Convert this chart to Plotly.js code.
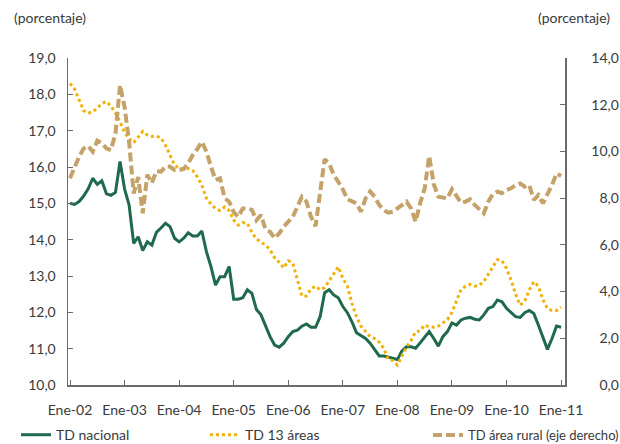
<!DOCTYPE html>
<html>
<head>
<meta charset="utf-8">
<script src="https://cdn.plot.ly/plotly-3.0.1.min.js"></script>
<style>
html,body{margin:0;padding:0;background:#fff;}
#chart{width:620px;height:444px;}
</style>
</head>
<body>
<div id="chart"></div>
<script>
// Monthly series, Jan 2002 .. Jan 2011
var tdNacional = [
15.00,14.97,15.05,15.20,15.40,15.69,15.52,15.62,15.27,15.22,15.30,16.15,
15.40,14.95,13.90,14.08,13.70,13.94,13.85,14.20,14.32,14.45,14.36,14.04,
13.94,14.04,14.19,14.10,14.10,14.24,13.67,13.26,12.75,12.98,12.98,13.26,
12.36,12.36,12.40,12.62,12.52,12.08,11.93,11.62,11.33,11.10,11.04,11.15,
11.33,11.47,11.51,11.62,11.68,11.59,11.59,11.88,12.54,12.62,12.48,12.40,
12.16,11.99,11.74,11.44,11.36,11.28,11.15,10.96,10.80,10.80,10.76,10.72,
10.70,10.94,11.05,11.05,11.01,11.16,11.33,11.47,11.28,11.07,11.33,11.47,
11.71,11.65,11.79,11.84,11.86,11.81,11.79,11.93,12.11,12.16,12.34,12.29,
12.11,11.99,11.88,11.86,11.99,12.05,11.97,11.65,11.33,10.98,11.28,11.62,
11.59];
var td13Areas = [
18.30,18.15,17.85,17.55,17.48,17.52,17.62,17.75,17.80,17.68,17.48,17.25,
16.95,16.78,16.67,16.84,16.98,16.88,16.84,16.85,16.80,16.60,16.33,16.05,
15.96,15.96,15.96,15.90,15.73,15.50,15.14,14.98,14.86,14.80,14.90,14.80,
14.54,14.40,14.47,14.45,14.20,14.02,13.94,13.85,13.72,13.50,13.38,13.22,
13.42,13.35,12.90,12.45,12.45,12.65,12.72,12.62,12.68,12.88,13.05,13.25,
12.94,12.72,12.25,11.88,11.62,11.47,11.33,11.28,11.18,11.01,10.70,10.67,
10.55,10.80,11.05,11.22,11.47,11.49,11.65,11.60,11.59,11.62,11.70,11.80,
12.00,12.30,12.63,12.72,12.77,12.72,12.74,12.85,13.05,13.25,13.45,13.42,
13.21,12.89,12.50,12.20,12.30,12.62,12.84,12.72,12.35,12.10,12.05,12.05,
12.14];
var tdRural = [
8.85,9.35,9.77,10.13,10.23,9.99,10.46,10.35,10.13,10.06,10.77,12.84,
11.90,10.40,8.20,8.90,7.35,9.00,8.65,9.15,9.13,9.35,9.35,9.20,
9.20,9.25,9.50,9.85,10.10,10.42,9.99,9.35,8.78,8.85,8.00,7.85,
7.40,7.20,7.56,7.56,7.50,7.05,7.28,6.66,6.56,6.28,6.49,6.78,
6.99,7.20,7.63,8.06,7.85,7.20,6.80,8.10,9.66,9.49,9.00,8.70,
8.38,7.95,7.85,7.78,7.42,7.99,8.28,8.06,7.71,7.49,7.38,7.42,
7.56,7.70,7.85,7.56,6.99,7.78,8.42,9.80,8.60,8.06,8.02,7.99,
8.38,8.06,7.80,7.85,7.95,7.71,7.52,7.35,7.85,8.18,8.28,8.21,
8.35,8.42,8.56,8.63,8.49,8.56,7.92,8.13,7.78,8.13,8.56,9.06,
8.95];
var yearLabels = ["Ene-02","Ene-03","Ene-04","Ene-05","Ene-06","Ene-07","Ene-08","Ene-09","Ene-10","Ene-11"];
var rightTickValues = [0, 2, 4, 6, 8, 10, 12, 14];
var seriesNames = ["TD nacional","TD 13 áreas","TD área rural (eje derecho)"];

var months = tdNacional.map(function(_, i){ return i; });
var yearTicks = yearLabels.map(function(_, k){ return k*12; });
// right-aligned look: pad one-digit labels with a figure space
var rightTickText = rightTickValues.map(function(v){
  var s = v.toFixed(1).replace(".", ",");
  return (v < 10 ? "\u2007" : "") + s;
});

var FONT = "Lato, 'Open Sans', sans-serif";
var TXT = "#3a3a3a";
var AX = "#6b6b6b";

var traces = [
  {x: months, y: tdNacional, name: seriesNames[0], type: "scatter", mode: "lines",
   line: {color: "#1f6a4c", width: 3}, legend: "legend"},
  {x: months, y: td13Areas, name: seriesNames[1], type: "scatter", mode: "lines",
   line: {color: "#f0b20a", width: 3, dash: "3px,3px"}, legend: "legend2"},
  {x: months, y: tdRural, name: seriesNames[2], type: "scatter", mode: "lines", yaxis: "y2",
   line: {color: "#c4a269", width: 4, dash: "9px,4px"}, legend: "legend3"}
];

var legendCommon = {orientation: "h", xref: "container", yref: "container", yanchor: "middle", y: 0.02, xanchor: "left",
  font: {family: FONT, size: 14, color: TXT}, bgcolor: "rgba(0,0,0,0)", itemwidth: 30};

var layout = {
  width: 620, height: 444,
  margin: {l: 68, r: 55, t: 58, b: 59, autoexpand: false},
  paper_bgcolor: "#fff", plot_bgcolor: "#fff",
  separators: ",.",
  font: {family: FONT, size: 14, color: TXT},
  showlegend: true,
  xaxis: {
    range: [-0.44, 108.86], tickvals: yearTicks, ticktext: yearLabels,
    showgrid: false, zeroline: false, showline: true, linecolor: AX, linewidth: 1.5,
    ticks: "inside", ticklen: 5, tickcolor: AX, tickwidth: 1,
    tickfont: {family: FONT, size: 14, color: TXT}, ticklabelstandoff: 12
  },
  yaxis: {
    range: [10, 19], dtick: 1, tickformat: ".1f",
    showgrid: false, zeroline: false, showline: true, linecolor: AX, linewidth: 1.5,
    ticks: "inside", ticklen: 5, tickcolor: AX, tickwidth: 1,
    tickfont: {family: FONT, size: 14, color: TXT}, ticklabelstandoff: 8
  },
  yaxis2: {
    range: [0, 14], tickvals: rightTickValues, ticktext: rightTickText, overlaying: "y", side: "right",
    showgrid: false, zeroline: false, showline: true, linecolor: AX, linewidth: 1.5,
    ticks: "inside", ticklen: 5, tickcolor: AX, tickwidth: 1,
    tickfont: {family: FONT, size: 14, color: TXT}, ticklabelstandoff: 22
  },
  legend: Object.assign({}, legendCommon, {x: 16/620}),
  legend2: Object.assign({}, legendCommon, {x: 205/620}),
  legend3: Object.assign({}, legendCommon, {x: 428/620, font: {family: FONT, size: 13, color: TXT}}),
  annotations: [
    {text: "(porcentaje)", xref: "paper", yref: "paper", x: -0.113, y: 1.125, xanchor: "left", yanchor: "middle",
     showarrow: false, font: {family: FONT, size: 14, color: TXT}},
    {text: "(porcentaje)", xref: "paper", yref: "paper", x: 1.095, y: 1.125, xanchor: "right", yanchor: "middle",
     showarrow: false, font: {family: FONT, size: 14, color: TXT}}
  ]
};

Plotly.newPlot("chart", traces, layout, {displayModeBar: false, staticPlot: true});
</script>
</body>
</html>
